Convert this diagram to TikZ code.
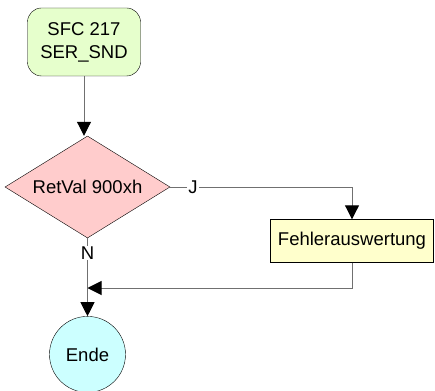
\documentclass[tikz,border=0pt]{standalone}
\usepackage{fontspec}
\setmainfont{Liberation Sans}
\usetikzlibrary{arrows.meta, shapes.geometric, positioning, calc}
\usepackage{xcolor}
\definecolor{startgreen}{HTML}{E6FFCC}
\definecolor{decpink}{HTML}{FFCCCC}
\definecolor{procyellow}{HTML}{FFFFCC}
\definecolor{endcyan}{HTML}{CCFFFF}
\definecolor{linegray}{HTML}{707070}

\begin{document}
\begin{tikzpicture}[
	x=1pt, y=1pt,
	startbox/.style={rectangle, draw, rounded corners=14pt, minimum height=68pt, minimum width=113pt, align=center, fill=startgreen},
	decbox/.style={diamond, draw, aspect=1.6, inner sep=0pt, minimum height=102pt, minimum width=165pt, align=center, fill=decpink},
	procbox/.style={rectangle, draw, minimum height=43pt, minimum width=163pt, align=center, fill=procyellow},
	endcircle/.style={circle, draw, minimum size=76pt, inner sep=0pt, align=center, fill=endcyan},
	arrow/.style={-{Triangle[width=14pt, length=14pt, color=black]}, line width=1pt, linegray},
	conn/.style={line width=1pt, linegray},
	lbl/.style={fill=white, inner sep=1pt, text=black},
	every node/.style={font=\fontsize{18.5}{23}\selectfont}
	]
	\useasboundingbox (0,0) rectangle (435,-390);
	\node[startbox] (start) at (84,-42) {SFC 217\\SER\_SND};
	\node[decbox] (ret) at (87.5,-187) {RetVal 900xh};
	\node[procbox] (fehler) at (352,-241) {Fehlerauswertung};
	\node[endcircle, below=78pt of ret] (ende) {Ende};
	\coordinate (jturn) at (fehler.north |- ret.east);
	\coordinate (merge) at (ende.north |- 0,-288);

	\draw[arrow] (start.south) -- (start.south |- ret.north);
	\draw[conn] (ret.east) -- node[lbl, pos=0.125] (j) {J} (jturn);
	\draw[arrow] (jturn) -- (fehler.north);
	\draw[arrow] (ret.south) -- node[lbl, pos=0.19] (n) {N} (ende.north);
	\draw[arrow] (fehler.south) |- (merge);
\end{tikzpicture}
\end{document}
